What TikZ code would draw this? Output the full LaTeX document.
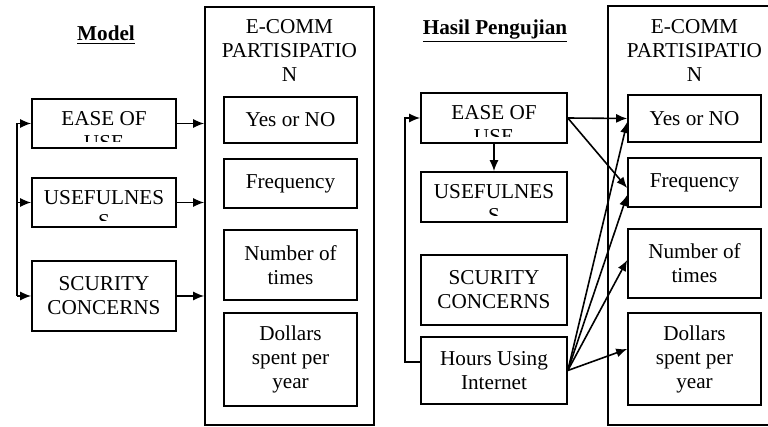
\documentclass[tikz,border=0pt]{standalone}
\usepackage{fontspec}
\setmainfont{Liberation Serif}
\usetikzlibrary{arrows.meta}

\newcommand{\boxfont}{\fontsize{10.6}{12}\selectfont}

\begin{document}
\begin{tikzpicture}[x=0.5pt,y=-0.5pt,
	box/.style={draw,line width=0.8pt,inner sep=0pt,align=center,font=\boxfont},
	cut/.style={path picture={
		\clip ([yshift=3pt]path picture bounding box.south west) rectangle (path picture bounding box.north east);
		\node[draw=none,align=center,font=\boxfont] at ([yshift=-3.5pt]path picture bounding box.center) {#1};}},
	head/.style={align=center,font=\boxfont},
	wire/.style={line width=0.8pt},
	link/.style={line width=0.8pt,-{Latex[length=5.5pt,width=4.5pt]}}]
	\useasboundingbox (0,0) rectangle (768,427);
	\node[font=\bfseries\boxfont] at (106,35) (tM) {\underline{Model}};
	\node[box,minimum width=84.5pt,minimum height=209pt] at (289.5,216) (eL) {};
	\node[head] at (289.5,50) (eLt) {E-COMM\\PARTISIPATIO\\N};
	\node[box,minimum width=66.5pt,minimum height=23pt] at (290.5,120) (yesL) {Yes or NO};
	\node[box,minimum width=66.5pt,minimum height=24.5pt] at (290.5,183.5) (freqL) {Frequency};
	\node[box,minimum width=66.5pt,minimum height=35pt] at (290.5,265) (numL) {Number of\\times};
	\node[box,minimum width=66.5pt,minimum height=46.5pt] at (290.5,359.5) (dolL) {Dollars\\spent per\\year};
	\node[box,cut={EASE OF\\USE},minimum width=72pt,minimum height=24.5pt] at (104,123.5) (easeL) {};
	\node[box,cut={USEFULNES\\S},minimum width=72pt,minimum height=24.5pt] at (104,202.5) (useL) {};
	\node[box,minimum width=72pt,minimum height=35pt] at (104,296) (secL) {SCURITY\\CONCERNS};
	\coordinate (busL) at (17,0);
	\draw[wire] (busL |- easeL.west) -- (busL |- secL.west);
	\draw[link] (busL |- easeL.west) -- (easeL.west);
	\draw[link] (busL |- useL.west) -- (useL.west);
	\draw[link] (busL |- secL.west) -- (secL.west);
	\draw[link] (easeL.east) -- (eL.west |- easeL.east);
	\draw[link] (useL.east) -- (eL.west |- useL.east);
	\draw[link] (secL.east) -- (eL.west |- secL.east);

	\node[font=\bfseries\boxfont] at (495,31) (tH) {\underline{Hasil Pengujian}};
	\node[box,minimum width=84pt,minimum height=209.5pt] at (692,215.5) (eR) {};
	\node[head] at (694.5,50) (eRt) {E-COMM\\PARTISIPATIO\\N};
	\node[box,minimum width=66.5pt,minimum height=23.5pt] at (694.5,118.5) (yesR) {Yes or NO};
	\node[box,minimum width=66.5pt,minimum height=24.5pt] at (694.5,182.5) (freqR) {Frequency};
	\node[box,minimum width=66.5pt,minimum height=34.5pt] at (694.5,263.5) (numR) {Number of\\times};
	\node[box,minimum width=66.5pt,minimum height=46pt] at (694.5,359) (dolR) {Dollars\\spent per\\year};
	\node[box,cut={EASE OF\\USE},minimum width=73pt,minimum height=25pt] at (494,118) (easeR) {};
	\node[box,cut={USEFULNES\\S},minimum width=73pt,minimum height=25pt] at (494,197) (useR) {};
	\node[box,minimum width=73pt,minimum height=35pt] at (494,290) (secR) {SCURITY\\CONCERNS};
	\node[box,minimum width=73pt,minimum height=33.5pt] at (494,370.5) (hourR) {Hours Using\\Internet};
	\draw[link] (easeR) -- (useR);
	\draw[link] ([yshift=4.25pt]hourR.west) -- ++(-15,0) |- (easeR.west);
	\draw[link] (easeR.east) -- (yesR.west);
	\draw[link] (easeR.east) -- ([yshift=-2.75pt]freqR.west);
	\draw[link] (hourR.east) -- ([yshift=-1.75pt]yesR.west);
	\draw[link] (hourR.east) -- ([yshift=-6.25pt]freqR.west);
	\draw[link] (hourR.east) -- ([yshift=1.75pt]numR.west);
	\draw[link] (hourR.east) -- ([yshift=5pt]dolR.west);
\end{tikzpicture}
\end{document}
